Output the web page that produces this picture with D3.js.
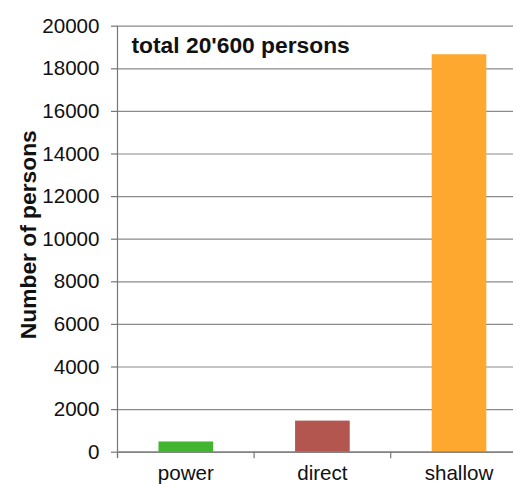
<!DOCTYPE html>
<html>
<head>
<meta charset="utf-8">
<script src="https://cdn.jsdelivr.net/npm/d3@7"></script>
<style>
  html, body { margin: 0; padding: 0; background: #fff; }
  svg { display: block; }
  text { font-family: "Liberation Sans", Arial, sans-serif; fill: #111; }
</style>
</head>
<body>
<svg id="chart" width="513" height="484"></svg>
<script>
// Persons per category
const categories = ["power", "direct", "shallow"];
const persons = [480, 1460, 18660];
const barColors = ["#41b52f", "#b3564f", "#ffa82f"];
const yTicks = [0, 2000, 4000, 6000, 8000, 10000, 12000, 14000, 16000, 18000, 20000];
const totalLabel = "total 20'600 persons";
const yTitle = "Number of persons";

const svg = d3.select("#chart");
const plotLeft = 117.5, plotBottom = 451.7, plotTop = 25.7;

const x = d3.scaleBand()
  .domain(categories)
  .range([plotLeft, plotLeft + 3 * 136.6])
  .paddingInner(0.6)
  .paddingOuter(0.3);

const y = d3.scaleLinear().domain([0, 20000]).range([plotBottom, plotTop]);

// horizontal gridlines with short outer ticks
const yAxis = d3.axisLeft(y)
  .tickValues(yTicks)
  .tickSize(-(x.range()[1] - plotLeft))
  .tickSizeOuter(0)
  .tickPadding(18)
  .tickFormat(d3.format("d"));

const gy = svg.append("g").attr("transform", `translate(${plotLeft},0)`).call(yAxis);
gy.select(".domain").remove();
gy.selectAll(".tick line").attr("stroke", "#8a8a8a").attr("stroke-width", 1.2);
gy.selectAll(".tick").append("line")
  .attr("x1", -6.5).attr("x2", 0)
  .attr("stroke", "#777").attr("stroke-width", 1.2);
gy.selectAll(".tick text")
  .attr("font-size", 20.6)
  .attr("font-family", "Liberation Sans, Arial, sans-serif")
  .attr("fill", "#111");

// bars
svg.append("g").selectAll("rect")
  .data(categories)
  .join("rect")
  .attr("x", d => x(d))
  .attr("width", x.bandwidth())
  .attr("y", (d, i) => y(persons[i]))
  .attr("height", (d, i) => plotBottom - y(persons[i]))
  .attr("fill", (d, i) => barColors[i]);

// category axis with ticks between bands
const xAxis = d3.axisBottom(x).tickSize(0).tickPadding(14);
const gx = svg.append("g").attr("transform", `translate(0,${plotBottom})`).call(xAxis);
gx.select(".domain").attr("stroke", "#777").attr("stroke-width", 1.2);
gx.selectAll(".tick text")
  .attr("font-size", 20.6)
  .attr("font-family", "Liberation Sans, Arial, sans-serif")
  .attr("fill", "#111");
const step = x.step();
svg.append("g").selectAll("line")
  .data(d3.range(0, 4))
  .join("line")
  .attr("x1", i => plotLeft + i * step)
  .attr("x2", i => plotLeft + i * step)
  .attr("y1", plotBottom)
  .attr("y2", plotBottom + 6.5)
  .attr("stroke", "#777").attr("stroke-width", 1.2);

// vertical axis line
svg.append("line")
  .attr("x1", plotLeft).attr("x2", plotLeft)
  .attr("y1", plotTop).attr("y2", plotBottom + 6)
  .attr("stroke", "#777").attr("stroke-width", 1.2);

// title inside plot
svg.append("text")
  .attr("x", 131.5).attr("y", 53.3)
  .attr("font-size", 22.8)
  .attr("font-weight", "bold")
  .text(totalLabel);

// y axis title
svg.append("text")
  .attr("transform", `translate(35.5,234.7) rotate(-90)`)
  .attr("text-anchor", "middle")
  .attr("font-size", 22.8)
  .attr("font-weight", "bold")
  .text(yTitle);
</script>
</body>
</html>
